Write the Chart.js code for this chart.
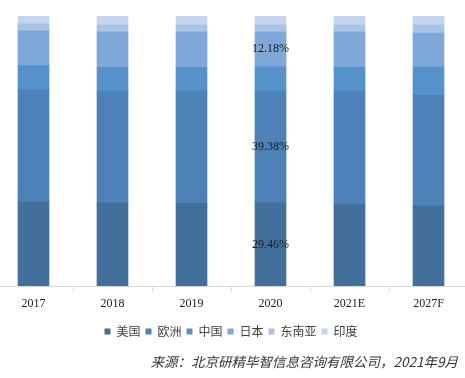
<!DOCTYPE html>
<html>
<head>
<meta charset="utf-8">
<script src="https://cdn.jsdelivr.net/npm/chart.js@4/dist/chart.umd.min.js"></script>
<style>
html,body{margin:0;padding:0;background:#fff;overflow:hidden;}
#wrap{width:465px;height:378px;position:relative;overflow:hidden;}
#c{position:absolute;left:-6px;top:0;}
</style>
</head>
<body>
<div id="wrap"><canvas id="c" width="474" height="378"></canvas></div>
<script>
const categories = ['2017', '2018', '2019', '2020', '2021E', '2027F'];
const seriesNames = ['美国', '欧洲', '中国', '日本', '东南亚', '印度'];
const usa      = [29.8, 29.4, 29.3, 29.46, 29.0, 28.5];
const europe   = [39.7, 39.7, 39.8, 39.38, 40.2, 39.3];
const china    = [8.6, 8.4, 8.4, 8.9, 8.4, 10.0];
const japan    = [12.3, 12.5, 12.5, 12.18, 12.5, 12.1];
const seAsia   = [2.5, 2.5, 2.5, 2.5, 2.5, 2.9];
const india    = [2.8, 3.2, 3.2, 3.2, 3.2, 3.2];
const labeledCategory = '2020';
const labeledSeries = ['美国', '欧洲', '日本'];
const sourceNote = '来源：北京研精毕智信息咨询有限公司，2021年9月';

const raw = [usa, europe, china, japan, seAsia, india];
const colors = ['#42709c', '#4c82b8', '#5592cb', '#7da8d9', '#aac2e4', '#c5d5ee'];
const totals = categories.map((_, i) => raw.reduce((s, arr) => s + arr[i], 0));

const datasets = raw.map((arr, k) => ({
  label: seriesNames[k],
  data: arr.map((v, i) => v / totals[i] * 100),
  rawValues: arr,
  backgroundColor: colors[k],
  borderWidth: 0,
  barThickness: 31
}));

const labelPlugin = {
  id: 'segLabels',
  afterDatasetsDraw(chart) {
    const ctx = chart.ctx;
    const ci = categories.indexOf(labeledCategory);
    ctx.save();
    ctx.font = '12px "Liberation Serif", "Times New Roman", serif';
    ctx.fillStyle = '#1a1a1a';
    ctx.textAlign = 'center';
    ctx.textBaseline = 'middle';
    chart.data.datasets.forEach((ds, k) => {
      if (!labeledSeries.includes(ds.label)) return;
      const el = chart.getDatasetMeta(k).data[ci];
      const y = (el.y + el.base) / 2;
      ctx.fillText(ds.rawValues[ci].toFixed(2) + '%', el.x, y);
    });
    ctx.restore();
  }
};

const sourcePlugin = {
  id: 'sourceNote',
  afterDraw(chart) {
    const ctx = chart.ctx;
    ctx.save();
    ctx.font = 'italic 13.5px "Noto Sans CJK SC", sans-serif';
    ctx.fillStyle = '#333';
    ctx.textAlign = 'right';
    ctx.textBaseline = 'middle';
    ctx.fillText(sourceNote, chart.width - 10, 362);
    ctx.restore();
  }
};

new Chart(document.getElementById('c'), {
  type: 'bar',
  data: { labels: categories, datasets },
  plugins: [labelPlugin, sourcePlugin],
  options: {
    responsive: false,
    animation: false,
    devicePixelRatio: 1,
    layout: { padding: { top: 16, left: 0, right: 0, bottom: 30.6 } },
    scales: {
      x: {
        stacked: true,
        grid: { display: true, drawOnChartArea: false, color: '#d9d9d9', tickLength: 5, offset: true },
        border: { color: '#d9d9d9' },
        ticks: { color: '#222', padding: 6, font: { family: '"Liberation Serif", "Times New Roman", serif', size: 12 } },
        afterFit(scale) { scale.height += 3; }
      },
      y: {
        stacked: true,
        display: false,
        min: 0,
        max: 100
      }
    },
    plugins: {
      legend: {
        position: 'bottom',
        labels: {
          boxWidth: 6,
          boxHeight: 6,
          padding: 5,
          color: '#404040',
          font: { family: '"Noto Sans CJK SC", sans-serif', size: 12 }
        }
      },
      title: { display: false },
      tooltip: { enabled: false }
    }
  }
});
</script>
</body>
</html>
